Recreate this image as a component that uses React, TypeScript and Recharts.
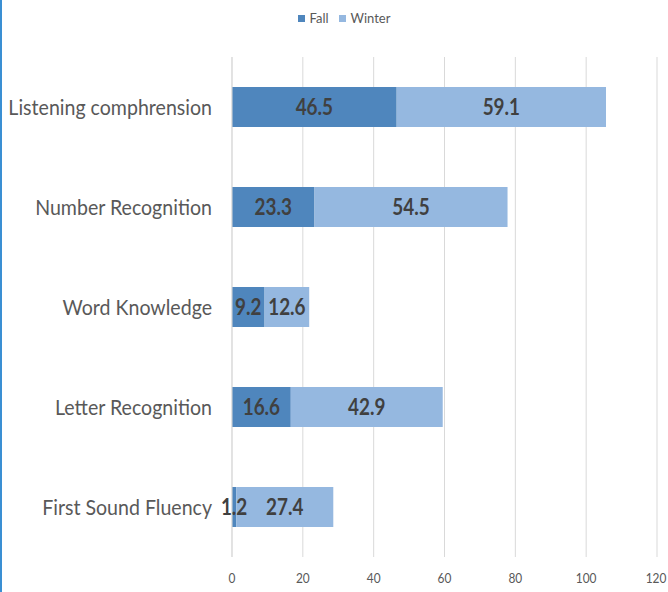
import { Bar, BarChart, CartesianGrid, LabelList, XAxis, YAxis } from "recharts";

const categories = [
  "Listening comphrension",
  "Number Recognition",
  "Word Knowledge",
  "Letter Recognition",
  "First Sound Fluency",
];
const fallValues = [46.5, 23.3, 9.2, 16.6, 1.2];
const winterValues = [59.1, 54.5, 12.6, 42.9, 27.4];
const xTicks = [0, 20, 40, 60, 80, 100, 120];

const FALL = "#4F86BD";
const WINTER = "#95B8E0";
const FONT = "Lato, sans-serif";

const data = categories.map((name, i) => ({
  name,
  fall: fallValues[i],
  winter: winterValues[i],
}));

// Lato is wider than the Calibri-like face in the reference, so text is squeezed horizontally
const squeeze = (s: number, x: number) => `matrix(${s},0,0,1,${x * (1 - s)},0)`;

function CategoryTick(props: any) {
  const { x, y, payload } = props;
  return (
    <text x={x} y={y} dy="0.36em" textAnchor="end" fill="#595959" fontSize={22} fontFamily={FONT} transform={squeeze(0.89, x)}>
      {payload.value}
    </text>
  );
}

function ValueTick(props: any) {
  const { x, y, payload } = props;
  return (
    <text x={x} y={y} dy="0.71em" textAnchor="middle" fill="#595959" fontSize={14} fontFamily={FONT} transform={squeeze(0.85, x)}>
      {payload.value}
    </text>
  );
}

function SegmentLabel(props: any) {
  const { x, y, width, height, value } = props;
  const cx = x + width / 2;
  return (
    <text
      x={cx}
      y={y + height / 2}
      dy="0.36em"
      textAnchor="middle"
      fill="#404040"
      fontSize={22}
      fontWeight="bold"
      fontFamily={FONT}
      transform={squeeze(0.86, cx)}
    >
      {value}
    </text>
  );
}

function ChartLegend() {
  const items = [
    { label: "Fall", color: FALL },
    { label: "Winter", color: WINTER },
  ];
  return (
    <div
      style={{
        position: "absolute",
        top: 10,
        left: 10,
        width: 668,
        display: "flex",
        justifyContent: "center",
        gap: 10,
        fontSize: 13,
        color: "#595959",
        fontFamily: FONT,
      }}
    >
      {items.map((it) => (
        <span key={it.label} style={{ display: "flex", alignItems: "center", gap: 5 }}>
          <span style={{ width: 7, height: 7, background: it.color, display: "inline-block" }} />
          {it.label}
        </span>
      ))}
    </div>
  );
}

export default function App() {
  return (
    <div
      style={{
        position: "absolute",
        left: 0,
        top: 0,
        width: 668,
        height: 592,
        background: "#fff",
        fontFamily: FONT,
        overflow: "hidden",
      }}
    >
      <BarChart
        data={data}
        layout="vertical"
        width={668}
        height={592}
        margin={{ top: 57, right: 11, bottom: 5, left: 0 }}
        barCategoryGap="30%"
      >
        <CartesianGrid stroke="#D9D9D9" horizontal={false} />
        <XAxis
          type="number"
          domain={[0, 120]}
          ticks={xTicks}
          axisLine={false}
          tickLine={false}
          tickMargin={10}
          height={30}
          tick={<ValueTick />}
        />
        <YAxis
          type="category"
          dataKey="name"
          width={232}
          axisLine={{ stroke: "#D9D9D9" }}
          tickLine={false}
          tickMargin={14}
          tick={<CategoryTick />}
        />
        <Bar dataKey="fall" stackId="a" fill={FALL} isAnimationActive={false}>
          <LabelList dataKey="fall" content={<SegmentLabel />} />
        </Bar>
        <Bar dataKey="winter" stackId="a" fill={WINTER} isAnimationActive={false}>
          <LabelList dataKey="winter" content={<SegmentLabel />} />
        </Bar>
      </BarChart>
      <ChartLegend />
      <div style={{ position: "absolute", left: 0, top: 0, width: 2, height: 592, background: "#3A8FD3" }} />
    </div>
  );
}
